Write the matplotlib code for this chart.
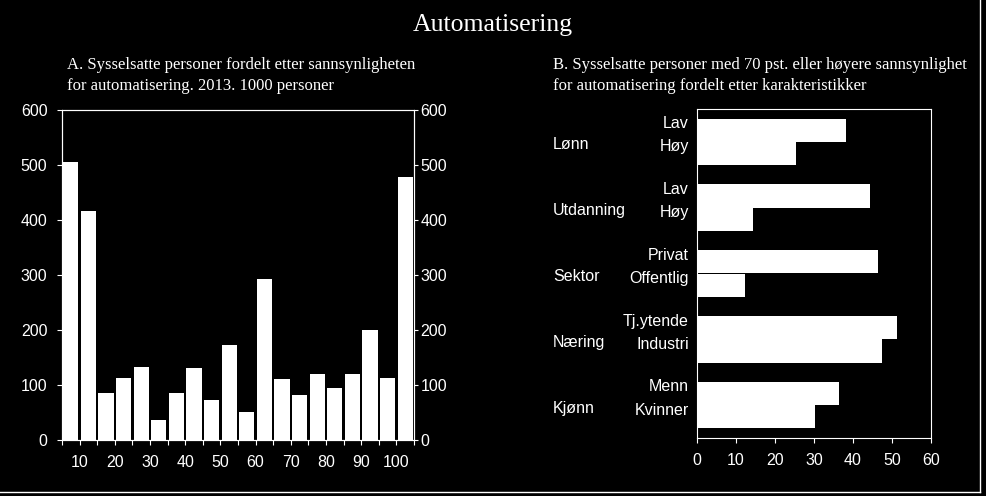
import numpy as np
import matplotlib
matplotlib.use('Agg')
import matplotlib.pyplot as plt
from matplotlib.lines import Line2D

# Panel A: employed persons by probability of automation, 1000 persons
prob_labels = ['10', '20', '30', '40', '50', '60', '70', '80', '90', '100']
persons = [505, 417, 86, 113, 133, 37, 86, 131, 73, 173,
           51, 293, 111, 82, 120, 95, 120, 200, 113, 479]

# Panel B: share with >= 70 pct probability, by characteristics
groups = ['Lønn', 'Utdanning', 'Sektor', 'Næring', 'Kjønn']
sub_labels = [['Lav', 'Høy'], ['Lav', 'Høy'], ['Privat', 'Offentlig'],
              ['Tj.ytende', 'Industri'], ['Menn', 'Kvinner']]
shares = [[38.1, 25.3], [44.3, 14.3], [46.4, 12.4], [51.2, 47.4], [36.4, 30.3]]

W, H = 986, 496
sans = 'Liberation Sans'
serif = 'Liberation Serif'
fs = 11.5
fg = 'white'

fig = plt.figure(figsize=(W / 100, H / 100), dpi=100, facecolor='black')

def box(l, t, r, b):
    return [l / W, (H - b) / H, (r - l) / W, (b - t) / H]

# ---- Panel A ----
ax1 = fig.add_axes(box(62, 110, 414, 440))
ax1.set_facecolor('black')
x = np.arange(len(persons))
ax1.bar(x, persons, width=0.86, color='white', edgecolor='none')
ax1.set_xlim(-0.5, len(persons) - 0.5)
ax1.set_ylim(0, 600)
ax1.set_yticks(range(0, 601, 100))
bounds = np.arange(-0.5, len(persons), 1.0)
ax1.set_xticks(bounds)
lab = [''] * len(bounds)
for i, s in enumerate(prob_labels):
    lab[2 * i + 1] = s
ax1.set_xticklabels(lab)
ax1.tick_params(axis='x', direction='out', length=3.5, width=0.8, colors=fg,
                labelsize=fs, pad=7)
ax1.tick_params(axis='y', direction='out', length=3.5, width=0.8, colors=fg,
                labelsize=fs, pad=7)
for sp in ax1.spines.values():
    sp.set_color(fg)
    sp.set_linewidth(0.8)
ax1r = ax1.twinx()
ax1r.set_ylim(0, 600)
ax1r.set_yticks(range(0, 601, 100))
ax1r.tick_params(axis='y', direction='out', length=3, width=0.8, colors=fg,
                 labelsize=fs, pad=1.5)
for sp in ax1r.spines.values():
    sp.set_color(fg)
    sp.set_linewidth(0.8)
for t in ax1.get_xticklabels() + ax1.get_yticklabels() + ax1r.get_yticklabels():
    t.set_family(sans)

# ---- Panel B ----
ax2 = fig.add_axes(box(697, 109, 931, 438))
ax2.set_facecolor('black')
bh = 0.355
ypos, vals, names = [], [], []
for g in range(len(groups)):
    for k in range(2):
        ypos.append(g + 0.5 - bh / 2 + k * bh)
        vals.append(shares[g][k])
        names.append(sub_labels[g][k])
ax2.barh(ypos, vals, height=bh, color='white', edgecolor='none')
ax2.set_ylim(len(groups), 0)
ax2.set_xlim(0, 60)
ax2.set_xticks(range(0, 61, 10))
ax2.set_yticks([])
ax2.tick_params(axis='x', direction='out', length=3.5, width=0.8, colors=fg,
                labelsize=fs, pad=7)
for t in ax2.get_xticklabels():
    t.set_family(sans)
for sp in ax2.spines.values():
    sp.set_color(fg)
    sp.set_linewidth(0.8)
trans = matplotlib.transforms.blended_transform_factory(ax2.transAxes, ax2.transData)
for yp, name in zip(ypos, names):
    ax2.text(-0.035, yp - 0.1, name, transform=trans, ha='right', va='center',
             color=fg, fontsize=fs, family=sans)
for g, name in enumerate(groups):
    ax2.text(-0.615, g + 0.545, name, transform=trans, ha='left', va='center',
             color=fg, fontsize=fs, family=sans)

# ---- titles ----
fig.text(493 / W, 1 - 25 / H, 'Automatisering', ha='center', va='center',
         color=fg, fontsize=18.5, family=serif)
fig.text(67 / W, 1 - 65 / H, 'A. Sysselsatte personer fordelt etter sannsynligheten',
         ha='left', va='center', color=fg, fontsize=12, family=serif)
fig.text(67 / W, 1 - 86 / H, 'for automatisering. 2013. 1000 personer',
         ha='left', va='center', color=fg, fontsize=12, family=serif)
fig.text(553 / W, 1 - 65 / H, 'B. Sysselsatte personer med 70 pst. eller høyere sannsynlighet',
         ha='left', va='center', color=fg, fontsize=12, family=serif)
fig.text(553 / W, 1 - 86 / H, 'for automatisering fordelt etter karakteristikker',
         ha='left', va='center', color=fg, fontsize=12, family=serif)

# frame lines at right and bottom
fig.add_artist(Line2D([980 / W, 980 / W], [1, 1 - 492 / H], color=fg, lw=1,
                      transform=fig.transFigure))
fig.add_artist(Line2D([0, 980 / W], [1 - 492 / H, 1 - 492 / H], color=fg, lw=1,
                      transform=fig.transFigure))

fig.savefig('out.png', dpi=100, facecolor='black')
